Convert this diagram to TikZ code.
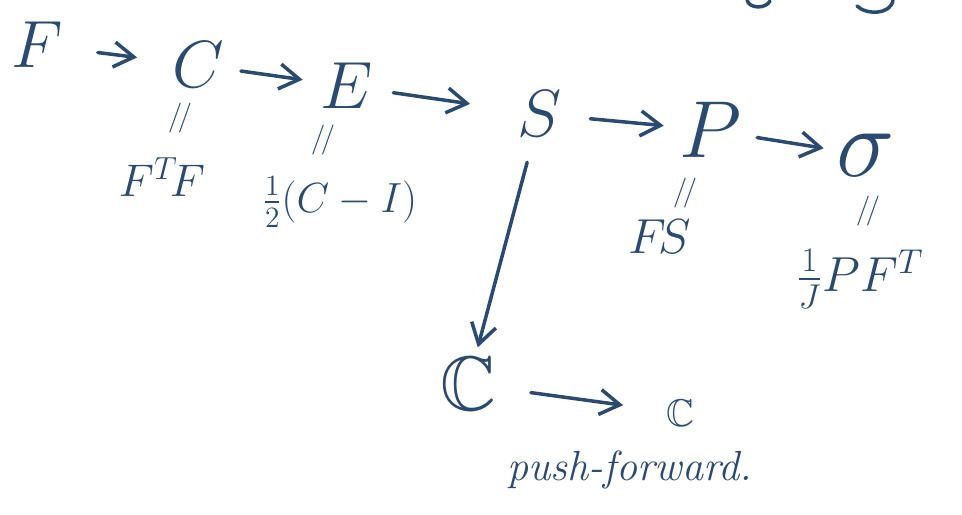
\RequirePackage{fix-cm}
\documentclass[tikz,border=0pt]{standalone}
\usepackage{amsmath,amssymb}
\usetikzlibrary{arrows.meta}
\definecolor{ink}{HTML}{2B4A6F}

\begin{document}
\begin{tikzpicture}[
  x=0.02cm, y=-0.02cm,
  sym/.style={text=ink, inner sep=0pt, font=\fontsize{38}{42}\selectfont},
  lbl/.style={text=ink, inner sep=0pt, font=\fontsize{28}{32}\selectfont},
  eqmark/.style={text=ink, inner sep=0pt, font=\fontsize{17}{19}\selectfont},
  arr/.style={draw=ink, line width=2pt, line cap=round,
    -{Straight Barb[length=4mm, width=5mm, line width=2pt]}}
]
\useasboundingbox (0,0) rectangle (962,514);

% main chain
\node[sym] (F) at (37,45) {$F$};
\node[sym] (C) at (198,65) {$C$};
\node[sym] (E) at (347,86) {$E$};
\node[sym] (S) at (540,114) {$S$};
\node[sym, font=\fontsize{46}{50}\selectfont] (P) at (710,130) {$P$};
\node[sym, font=\fontsize{56}{60}\selectfont] (sig) at (866,155) {$\sigma$};

% definitions
\node[eqmark] (eqC) at (180,118) {$/\mkern-3mu/$};
\node[eqmark] (eqE) at (323,140) {$/\mkern-3mu/$};
\node[eqmark] (eqP) at (685,193) {$/\mkern-3mu/$};
\node[eqmark] (eqsig) at (868,211) {$/\mkern-3mu/$};
\node[lbl, font=\fontsize{26}{30}\selectfont] (Cdef) at (162,177) {$F^{T}\!F$};
\node[lbl, font=\fontsize{24}{28}\selectfont] (Edef) at (340,202) {$\frac{1}{2}(C-I)$};
\node[lbl] (Pdef) at (660,237) {$F\!S$};
\node[lbl] (sigdef) at (860,279) {$\frac{1}{J}P F^{T}$};

% push-forward row
\node[sym, font=\fontsize{44}{48}\selectfont] (bigC) at (468,384) {$\mathbb{C}$};
\node[sym, font=\fontsize{22}{26}\selectfont] (smallc) at (680,413) {$\mathbb{C}$};
\node[text=ink, inner sep=0pt, font=\fontsize{24}{28}\selectfont\itshape] (push) at (630,470) {push-forward.};

\draw[arr, shorten <=0.7cm, shorten >=0.7cm] (F) -- (C);
\draw[arr, shorten <=0.34cm, shorten >=0.36cm] (C) -- (E);
\draw[arr, shorten <=0.4cm, shorten >=0.96cm] (E) -- (S);
\draw[arr, shorten <=0.56cm, shorten >=0.3cm] (S) -- (P);
\draw[arr, shorten <=0.32cm, shorten >=0.26cm] (P) -- (sig);
\draw[arr, shorten <=0.52cm, shorten >=0.2cm] (S) -- (bigC);
\draw[arr, shorten <=0.7cm, shorten >=0.86cm] (bigC) -- (smallc);

% cut-off strokes at the top edge
\draw[ink, line width=2pt, line cap=round] (747,0) .. controls (749,9) and (766,9) .. (770,1);
\draw[ink, line width=2pt, line cap=round] (893,0) .. controls (891,15) and (866,15) .. (857,6);

\end{tikzpicture}
\end{document}
